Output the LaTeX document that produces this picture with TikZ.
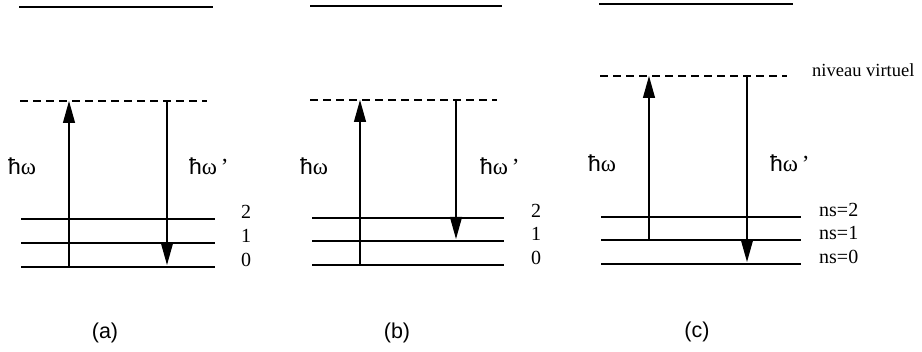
\documentclass[tikz,border=0pt]{standalone}
\usepackage{fontspec}
\setmainfont{Liberation Serif}
\newfontfamily\sansf{Liberation Sans}
\usetikzlibrary{arrows.meta}
\newcommand{\hbarw}{{\sansf ħ}ω}
\begin{document}
\begin{tikzpicture}[x=1pt,y=-1pt,
  lvl/.style={line width=1.2pt},
  virt/.style={line width=1.2pt, dash pattern=on 8pt off 5pt},
  trans/.style={line width=1.2pt,-{Triangle[length=22pt,width=12pt]}},
  lab/.style={font=\fontsize{20}{24}\selectfont, inner sep=0pt},
  wlab/.style={font=\fontsize{23}{27}\selectfont, inner sep=0pt, anchor=west},
  num/.style={lab, anchor=base west},
  captxt/.style={font=\sansf\fontsize{21.5}{25}\selectfont, inner sep=0pt}]
\useasboundingbox (0,0) rectangle (922,352);

% ---------- panel (a)
\draw[lvl] (19,7) -- (213,7);
\draw[virt] (20,101) -- (207,101);
\draw[lvl] (21,219) -- (215,219);
\draw[lvl] (21,243) -- (215,243);
\draw[lvl] (21,267) -- (215,267);
\coordinate (aup0) at (69,267);
\coordinate (aup1) at (69,101);
\coordinate (adn0) at (167,101);
\coordinate (adn1) at (167,265);
\draw[trans] (aup0) -- (aup1);
\draw[trans] (adn0) -- (adn1);
\node[num] (a2) at (241,219) {2};
\node[num] (a1) at (241,243) {1};
\node[num] (a0) at (241,267) {0};
\node[wlab] (aw) at (8,166) {\hbarw};
\node[wlab] (aw2) at (189,166) {\hbarw\,'};
\node[captxt] (capa) at (105,333) {(a)};

% ---------- panel (b)
\draw[lvl] (310,6) -- (502,6);
\draw[virt] (310,100) -- (497,100);
\draw[lvl] (312,218) -- (504,218);
\draw[lvl] (312,241) -- (504,241);
\draw[lvl] (312,265) -- (504,265);
\coordinate (bup0) at (360,265);
\coordinate (bup1) at (360,100);
\coordinate (bdn0) at (456,100);
\coordinate (bdn1) at (456,239);
\draw[trans] (bup0) -- (bup1);
\draw[trans] (bdn0) -- (bdn1);
\node[num] (b2) at (531,218) {2};
\node[num] (b1) at (531,241) {1};
\node[num] (b0) at (531,265) {0};
\node[wlab] (bw) at (300,166) {\hbarw};
\node[wlab] (bw2) at (480,166) {\hbarw\,'};
\node[captxt] (capb) at (397,333) {(b)};

% ---------- panel (c)
\draw[lvl] (599,4) -- (793,4);
\draw[virt] (600,76) -- (787,76);
\draw[lvl] (601,217) -- (801,217);
\draw[lvl] (601,240) -- (801,240);
\draw[lvl] (601,264) -- (801,264);
\coordinate (cup0) at (649,240);
\coordinate (cup1) at (649,76);
\coordinate (cdn0) at (747,76);
\coordinate (cdn1) at (747,262);
\draw[trans] (cup0) -- (cup1);
\draw[trans] (cdn0) -- (cdn1);
\node[num] (c2) at (819,217) {ns=2};
\node[num] (c1) at (819,240) {ns=1};
\node[num] (c0) at (819,264) {ns=0};
\node[font=\fontsize{18.5}{22}\selectfont, inner sep=0pt, anchor=west] (virtlab) at (812,70) {niveau virtuel};
\node[wlab] (cw) at (588,163) {\hbarw};
\node[wlab] (cw2) at (770,163) {\hbarw\,'};
\node[captxt] (capc) at (697,332) {(c)};
\end{tikzpicture}
\end{document}
